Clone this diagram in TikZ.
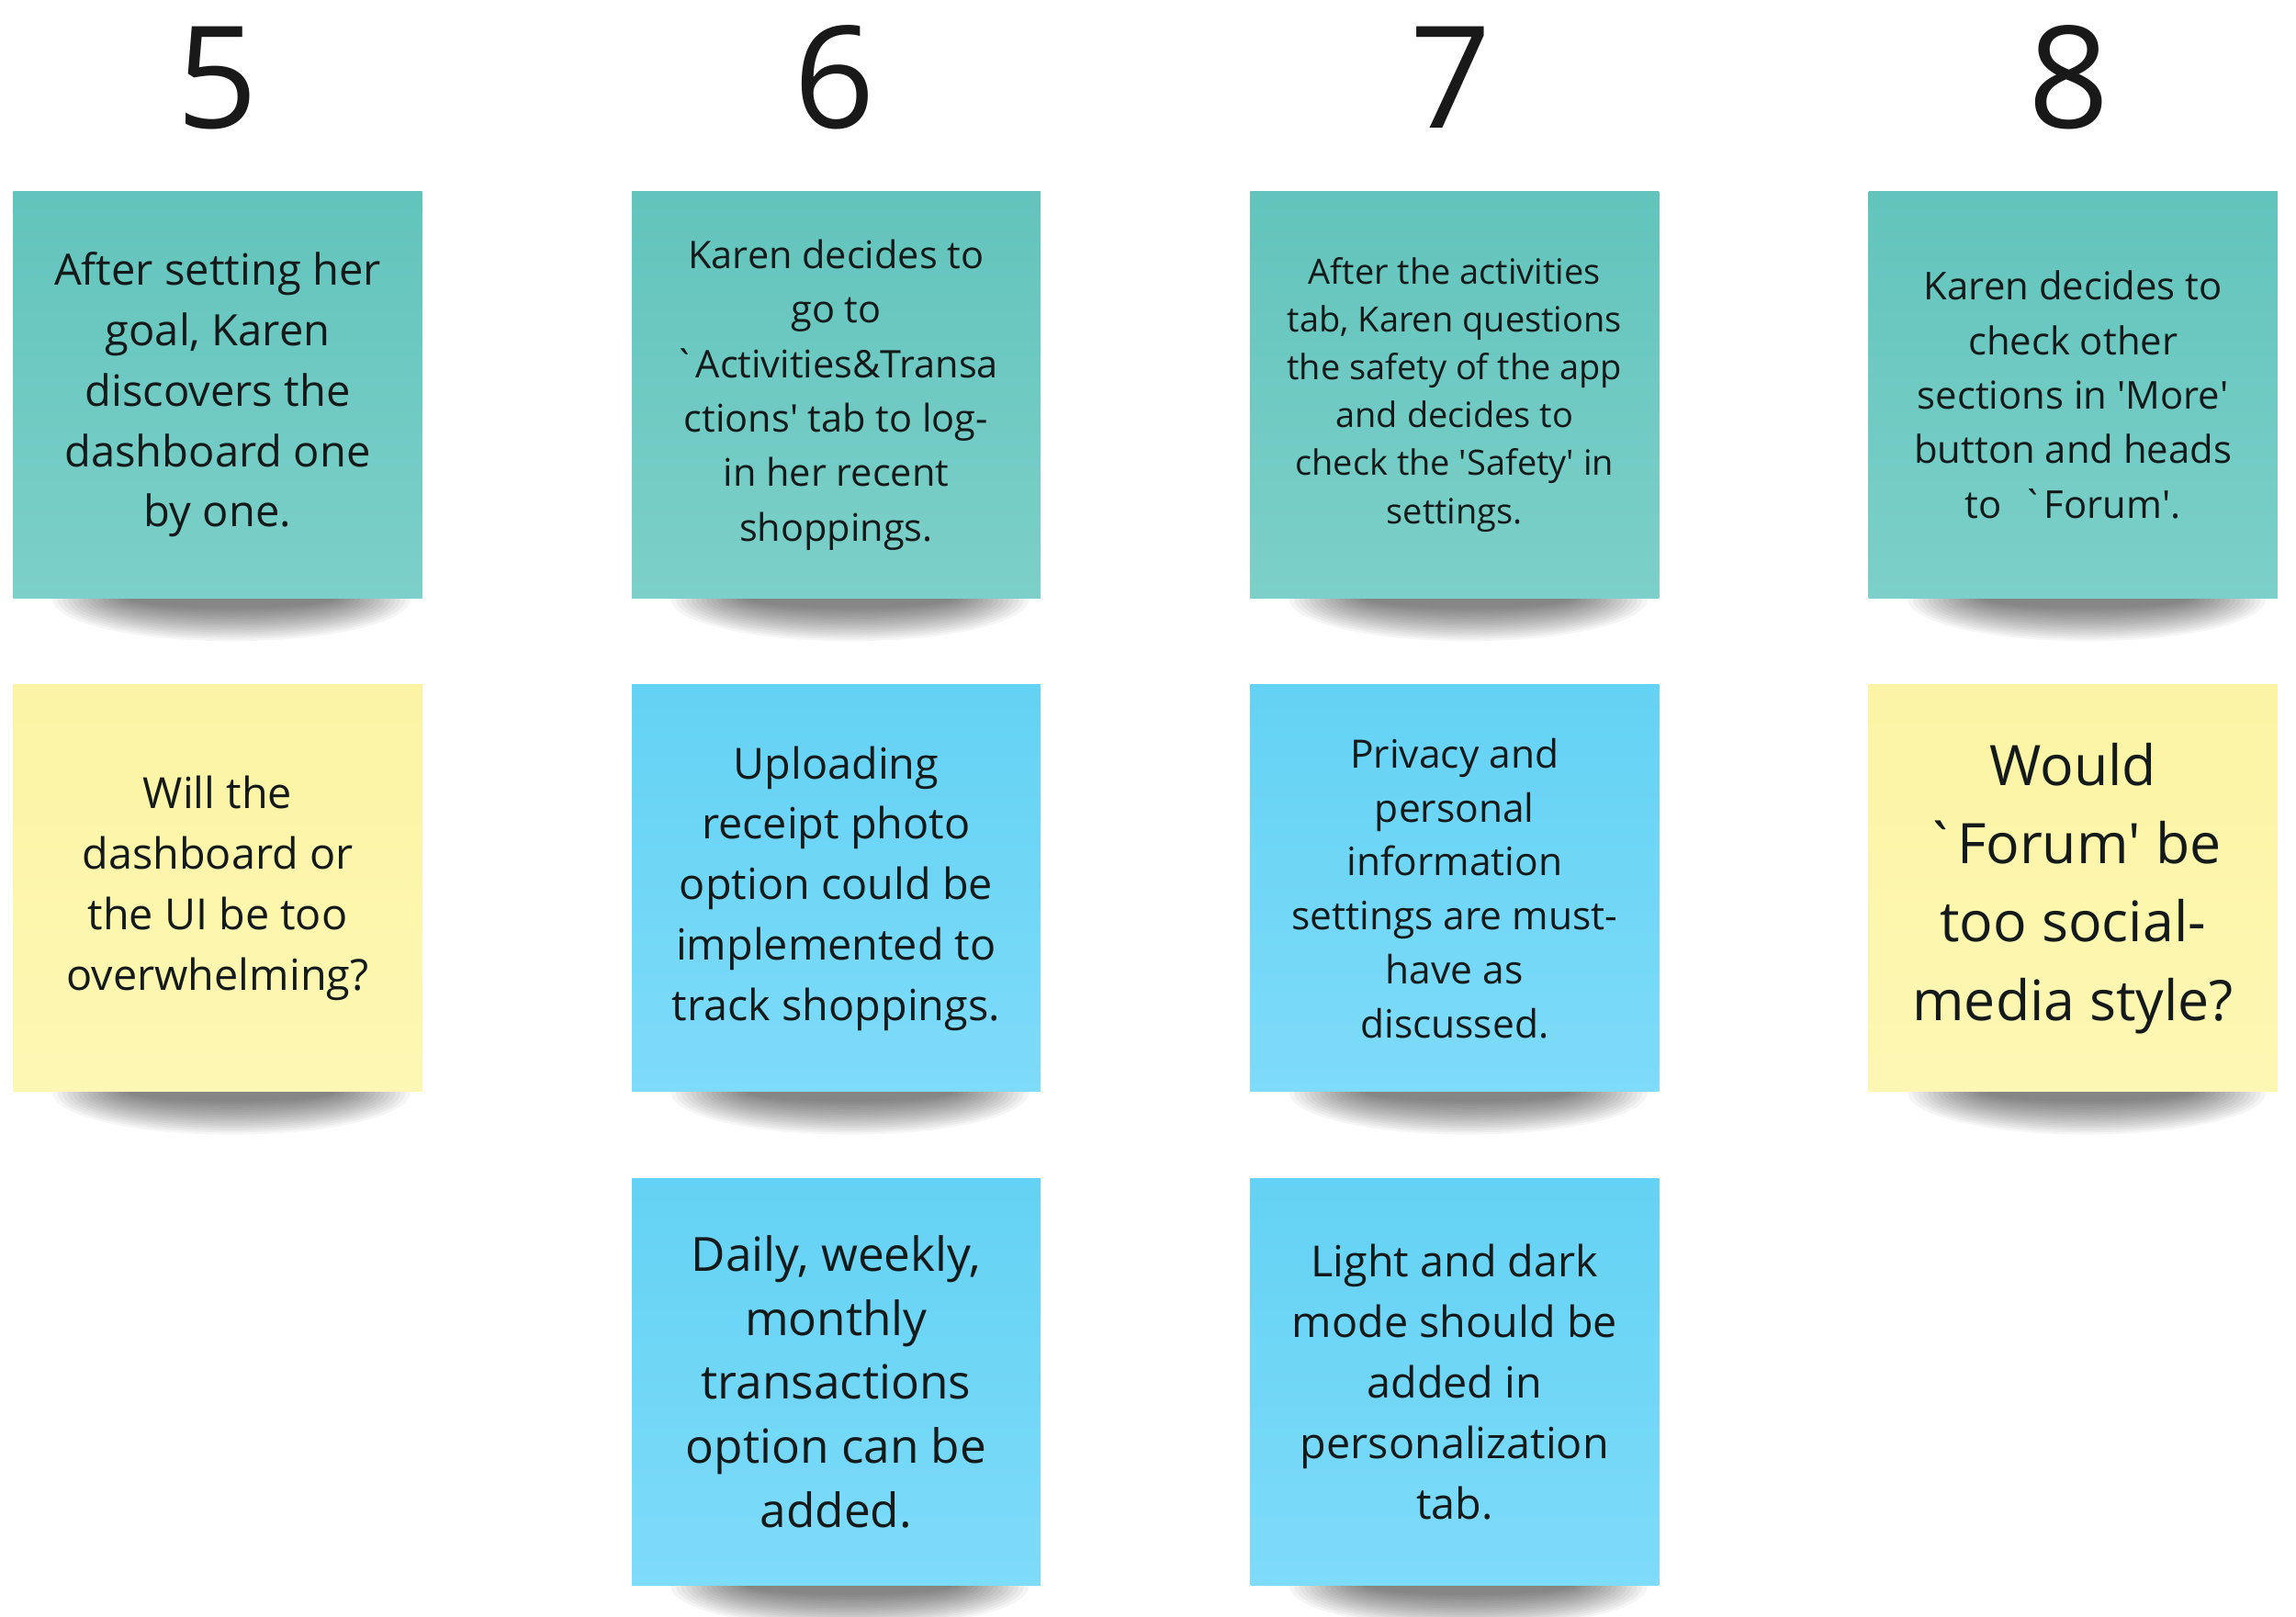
\documentclass[tikz,border=0pt]{standalone}
\usepackage{fontspec}
\setmainfont{Open Sans}
\usepackage{xcolor}
\usepackage{tikz}
\usetikzlibrary{calc,positioning,backgrounds}

\definecolor{tealtop}{RGB}{98,196,188}
\definecolor{tealbot}{RGB}{124,208,201}
\definecolor{bluetop}{RGB}{100,210,244}
\definecolor{bluebot}{RGB}{126,219,249}
\definecolor{yellowtop}{RGB}{252,244,164}
\definecolor{yellowbot}{RGB}{253,247,180}
\definecolor{noteink}{RGB}{20,26,26}
\definecolor{numink}{RGB}{25,25,25}

\begin{document}
\begin{tikzpicture}[
    stickynote/.style={minimum width=4.45cm, minimum height=4.43cm, inner sep=0pt, align=center, text=noteink},
    tealnote/.style={stickynote, top color=tealtop, bottom color=tealbot},
    bluenote/.style={stickynote, top color=bluetop, bottom color=bluebot},
    yellownote/.style={stickynote, top color=yellowtop, bottom color=yellowbot},
    colnum/.style={anchor=base, text=numink, font=\fontsize{44}{50}\selectfont}
  ]
  \useasboundingbox (0,0) rectangle (25,-17.61);
  % step numbers over the four columns
  \foreach \n/\x in {5/2.37, 6/9.09, 7/15.80, 8/22.53}
    \node[colnum] (num\n) at (\x, -1.40) {\n};
  % first row: what Karen does
  \node[tealnote, font=\fontsize{13.4}{18.7}\selectfont] (act5) at (2.37, -4.30)
    {After setting her\\goal, Karen\\discovers the\\dashboard one\\by one.};
  \node[tealnote, font=\fontsize{11.8}{16.9}\selectfont, right=2.27cm of act5] (act6)
    {Karen decides to\\go to\\\textasciigrave Activities\&Transa\\ctions\textquotesingle{} tab to log-\\in her recent\\shoppings.};
  \node[tealnote, font=\fontsize{10.8}{14.8}\selectfont, right=2.27cm of act6] (act7)
    {After the activities\\tab, Karen questions\\the safety of the app\\and decides to\\check the \textquotesingle Safety\textquotesingle{} in\\settings.};
  \node[tealnote, font=\fontsize{11.9}{16.9}\selectfont, right=2.27cm of act7] (act8)
    {Karen decides to\\check other\\sections in \textquotesingle More\textquotesingle\\button and heads\\to \ \textasciigrave Forum\textquotesingle.};
  % second row: questions and ideas
  \node[yellownote, font=\fontsize{13.3}{18.7}\selectfont, below=0.93cm of act5] (ask5)
    {Will the\\dashboard or\\the UI be too\\overwhelming?};
  \node[bluenote, font=\fontsize{13.3}{18.7}\selectfont, below=0.93cm of act6] (idea6)
    {Uploading\\receipt photo\\option could be\\implemented to\\track shoppings.};
  \node[bluenote, font=\fontsize{12.1}{16.7}\selectfont, below=0.93cm of act7] (idea7)
    {Privacy and\\personal\\information\\settings are must-\\have as\\discussed.};
  \node[yellownote, font=\fontsize{17.3}{24.3}\selectfont, below=0.93cm of act8] (ask8)
    {Would\\\textasciigrave Forum\textquotesingle{} be\\too social-\\media style?};
  % third row
  \node[bluenote, font=\fontsize{14.6}{19.9}\selectfont, below=0.93cm of idea6] (extra6)
    {Daily, weekly,\\monthly\\transactions\\option can be\\added.};
  \node[bluenote, font=\fontsize{13.3}{18.8}\selectfont, below=0.93cm of idea7] (extra7)
    {Light and dark\\mode should be\\added in\\personalization\\tab.};
  % soft shadows under the notes, stacked thin layers
  \begin{scope}[on background layer]
    \foreach \n in {act5,act6,act7,act8,ask5,idea6,idea7,ask8,extra6,extra7}
      \foreach \k in {0,...,15}
        \fill[black, opacity=0.04] ($(\n.south)+(0.15,0)$) ellipse ({1.95-0.055*\k} and {0.46-0.024*\k});
  \end{scope}
\end{tikzpicture}
\end{document}
